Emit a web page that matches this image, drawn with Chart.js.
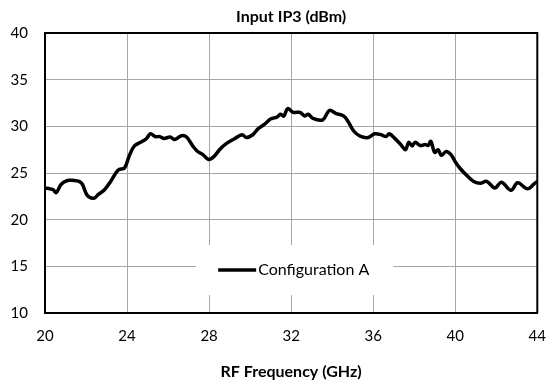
<!DOCTYPE html>
<html>
<head>
<meta charset="utf-8">
<script src="https://cdn.jsdelivr.net/npm/chart.js@4"></script>
<style>
    html, body { margin: 0; padding: 0; background: #fff; }
    #wrap { width: 560px; height: 381px; }
</style>
</head>
<body>
<div id="wrap"><canvas id="ip3chart" width="560" height="381"></canvas></div>
<script>
const freqGHz = [
    20.0, 20.24, 20.4, 20.55, 20.79, 21.1, 21.4, 21.66, 21.82, 22.06,
    22.38, 22.6, 22.9, 23.2, 23.56, 23.88, 24.1, 24.36, 24.75, 24.95,
    25.14, 25.38, 25.6, 25.8, 26.1, 26.33, 26.65, 26.9, 27.2, 27.44,
    27.68, 27.97, 28.23, 28.55, 28.87, 29.26, 29.61, 29.82, 30.13, 30.37,
    30.69, 31.0, 31.16, 31.32, 31.48, 31.64, 31.83, 32.1, 32.43, 32.67,
    32.83, 33.06, 33.54, 33.86, 34.17, 34.57, 34.81, 35.05, 35.36, 35.76,
    36.07, 36.39, 36.63, 36.78, 37.1, 37.34, 37.58, 37.73, 37.9, 38.05,
    38.29, 38.53, 38.68, 38.81, 39.0, 39.16, 39.32, 39.56, 39.8, 40.03,
    40.27, 40.58, 40.9, 41.22, 41.53, 41.93, 42.25, 42.72, 43.04, 43.52,
    43.83, 44.0
];
const ip3ConfigA = [
    23.4, 23.3, 23.2, 22.9, 23.8, 24.2, 24.2, 24.1, 23.8, 22.6,
    22.3, 22.7, 23.2, 24.1, 25.3, 25.55, 26.8, 27.9, 28.4, 28.7,
    29.2, 28.9, 28.9, 28.7, 28.85, 28.6, 29.0, 28.85, 27.9, 27.3,
    27.0, 26.45, 26.75, 27.6, 28.2, 28.7, 29.1, 28.8, 29.1, 29.7,
    30.2, 30.8, 30.9, 31.0, 31.3, 31.1, 31.9, 31.5, 31.5, 31.1,
    31.3, 30.85, 30.7, 31.7, 31.4, 31.1, 30.4, 29.5, 28.95, 28.8,
    29.2, 29.1, 28.9, 29.2, 28.6, 28.05, 27.5, 28.3, 27.9, 28.3,
    27.95, 28.05, 27.95, 28.4, 27.2, 27.5, 26.9, 27.3, 26.95, 26.1,
    25.4, 24.7, 24.1, 23.9, 24.1, 23.4, 24.0, 23.15, 23.95, 23.3,
    23.8, 24.1
];
const xTicks = [20, 24, 28, 32, 36, 40, 44];
const yTicks = [10, 15, 20, 25, 30, 35, 40];

const chartTitle = 'Input IP3 (dBm)';
const xTitle = 'RF Frequency (GHz)';
const seriesName = 'Configuration A';

const FONT = 'Lato, "Liberation Sans", sans-serif';

// title centred over the plot area, plus top/right frame
const framePlugin = {
    id: 'frame',
    afterDraw(chart) {
        const ctx = chart.ctx;
        const a = chart.chartArea;
        ctx.save();
        ctx.strokeStyle = '#000';
        ctx.lineWidth = 2;
        ctx.beginPath();
        ctx.moveTo(a.left, a.top);
        ctx.lineTo(a.right, a.top);
        ctx.lineTo(a.right, a.bottom);
        ctx.stroke();

        ctx.fillStyle = '#000';
        ctx.font = 'bold 16px ' + FONT;
        ctx.textAlign = 'center';
        ctx.textBaseline = 'middle';
        ctx.fillText(chartTitle, (a.left + a.right) / 2, 17);
        ctx.restore();
    }
};

// legend sitting inside the plot, on a white box
const innerLegend = {
    id: 'innerLegend',
    afterDatasetsDraw(chart) {
        const ctx = chart.ctx;
        const a = chart.chartArea;
        const ds = chart.data.datasets[0];
        const cx = (a.left + a.right) / 2 + 3;
        const cy = chart.scales.y.getPixelForValue(14.6);
        ctx.save();
        ctx.fillStyle = '#fff';
        ctx.fillRect(cx - 98, cy - 25, 197, 50);
        ctx.strokeStyle = ds.borderColor;
        ctx.lineWidth = ds.borderWidth;
        ctx.beginPath();
        ctx.moveTo(cx - 76, cy);
        ctx.lineTo(cx - 38, cy);
        ctx.stroke();
        ctx.fillStyle = '#000';
        ctx.font = '16px ' + FONT;
        ctx.textAlign = 'left';
        ctx.textBaseline = 'middle';
        ctx.fillText(ds.label, cx - 36, cy);
        ctx.restore();
    }
};

document.addEventListener('DOMContentLoaded', function () {
    const ctx = document.getElementById('ip3chart').getContext('2d');

    const points = freqGHz.map((f, i) => ({ x: f, y: ip3ConfigA[i] }));

    new Chart(ctx, {
        type: 'line',
        data: {
            datasets: [{
                label: seriesName,
                data: points,
                borderColor: '#000',
                borderWidth: 3.5,
                pointRadius: 0,
                tension: 0.35,
                fill: false
            }]
        },
        options: {
            responsive: false,
            animation: false,
            layout: { padding: { top: 33, right: 10, left: 0, bottom: 0 } },
            plugins: {
                legend: { display: false },
                tooltip: { enabled: false }
            },
            scales: {
                x: {
                    type: 'linear',
                    min: 20,
                    max: 44,
                    afterBuildTicks: scale => { scale.ticks = xTicks.map(v => ({ value: v })); },
                    afterFit: scale => { scale.height = 68; },
                    grid: { color: '#a6a6a6', lineWidth: 1, drawTicks: false },
                    border: { color: '#000', width: 2 },
                    ticks: { color: '#000', padding: 14, font: { family: FONT, size: 15 } },
                    title: {
                        display: true,
                        text: xTitle,
                        color: '#000',
                        padding: { top: 13, bottom: 0 },
                        font: { family: FONT, size: 16, weight: 'bold' }
                    }
                },
                y: {
                    min: 10,
                    max: 40,
                    afterBuildTicks: scale => { scale.ticks = yTicks.map(v => ({ value: v })); },
                    afterFit: scale => { scale.width = 45; },
                    grid: { color: '#a6a6a6', lineWidth: 1, drawTicks: false },
                    border: { color: '#000', width: 2 },
                    ticks: { color: '#000', padding: 17, font: { family: FONT, size: 15 } }
                }
            }
        },
        plugins: [framePlugin, innerLegend]
    });
});
</script>
</body>
</html>
